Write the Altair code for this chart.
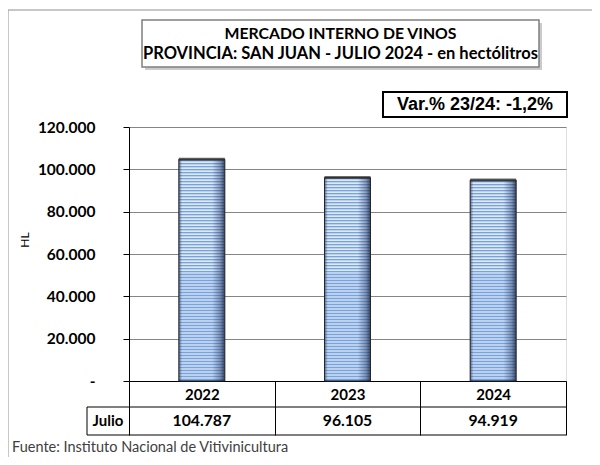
import altair as alt
import pandas as pd

# ---- data ----
years = ["2022", "2023", "2024"]
values = [104787, 96105, 94919]
value_labels = [f"{v:,}".replace(",", ".") for v in values]
row_label = ["Julio"]
title_lines = ["MERCADO INTERNO DE VINOS",
               "PROVINCIA: SAN JUAN - JULIO 2024 - en hectólitros"]
var_text = ["Var.% 23/24: -1,2%"]
y_title = ["HL"]
source_text = ["Fuente: Instituto Nacional de Vitivinicultura"]
y_ticks = [0, 20000, 40000, 60000, 80000, 100000, 120000]

W, H = 437, 254
FONT = "Lato"
STRIPE_STEP = 1417

df = pd.DataFrame({"year": years, "value": values, "label": value_labels})
one = pd.DataFrame({"a": [0]})

xscale = alt.Scale(paddingInner=0, paddingOuter=0)
yscale = alt.Scale(domain=[0, 120000], nice=False)

xenc = alt.X("year:N", sort=years, scale=xscale, title=None,
             axis=alt.Axis(tickBand="extent", tickSize=54, tickColor="black", tickWidth=1,
                           domainColor="black", domainWidth=1, labelFont=FONT,
                           labelFontWeight="bold", labelFontSize=15, labelColor="black",
                           labelPadding=-41, labelBaseline="middle", labelAngle=0))
yenc = alt.Y("value:Q", scale=yscale, title=None,
             axis=alt.Axis(values=y_ticks, grid=True, gridColor="#858585", gridWidth=1,
                           tickSize=6, tickColor="black", domainColor="black",
                           labelFont=FONT, labelFontWeight="bold", labelFontSize=15.5,
                           labelColor="black", labelPadding=28,
                           labelExpr="datum.value == 0 ? '-' : replace(format(datum.value, ','), ',', '.')"))
x2 = alt.X("year:N", sort=years, title=None)

base = alt.Chart(df)

bars = base.mark_bar(size=46, color="#78a2dc").encode(x=xenc, y=yenc)

stripes = base.transform_calculate(
    s=f"sequence({STRIPE_STEP}, datum.value - 700, {STRIPE_STEP})"
).transform_flatten(["s"]).mark_tick(
    size=46, thickness=1.2, color="white", opacity=1
).encode(x=x2, y=alt.Y("s:Q", title=None))

grad = alt.Gradient(
    gradient="linear", x1=0, y1=0, x2=1, y2=0,
    stops=[
        alt.GradientStop(color="rgba(25,45,85,0.6)", offset=0),
        alt.GradientStop(color="rgba(25,45,85,0.0)", offset=0.07),
        alt.GradientStop(color="rgba(25,45,85,0.0)", offset=0.72),
        alt.GradientStop(color="rgba(25,45,85,0.4)", offset=0.9),
        alt.GradientStop(color="rgba(20,30,60,0.8)", offset=1),
    ],
)
overlay = base.mark_bar(size=46, fill=grad, stroke="#262626", strokeWidth=1).encode(
    x=x2, y=alt.Y("value:Q", title=None))
cap = base.mark_tick(size=46, thickness=3, color="#303030").encode(
    x=x2, y=alt.Y("value:Q", title=None))

# ---- decorations ----
frame = alt.Chart(one).mark_rect(fill=None, stroke="#8f8f8f", strokeWidth=1).encode(
    x=alt.value(-121), x2=alt.value(470), y=alt.value(-117), y2=alt.value(340))
shadow = alt.Chart(one).mark_rect(fill="#b5b5b5", opacity=0.7).encode(
    x=alt.value(16), x2=alt.value(413), y=alt.value(-104), y2=alt.value(-57))
tbox = alt.Chart(one).mark_rect(fill="white", stroke="#7f7f7f", strokeWidth=1.5).encode(
    x=alt.value(13), x2=alt.value(410), y=alt.value(-107), y2=alt.value(-60))
t1 = alt.Chart(pd.DataFrame({"t": title_lines[:1]})).mark_text(
    font=FONT, fontWeight="bold", fontSize=15.8, color="black", baseline="middle").encode(
    x=alt.value(211.5), y=alt.value(-93), text="t:N")
t2 = alt.Chart(pd.DataFrame({"t": title_lines[1:]})).mark_text(
    font=FONT, fontWeight="bold", fontSize=16.5, color="black", baseline="middle").encode(
    x=alt.value(211.5), y=alt.value(-73), text="t:N")
vbox = alt.Chart(one).mark_rect(fill="white", stroke="black", strokeWidth=2).encode(
    x=alt.value(254), x2=alt.value(438), y=alt.value(-35), y2=alt.value(-10))
vtext = alt.Chart(pd.DataFrame({"t": var_text})).mark_text(
    font="Liberation Sans", fontWeight="bold", fontSize=18, color="black", baseline="middle").encode(
    x=alt.value(346), y=alt.value(-22), text="t:N")
hl = alt.Chart(pd.DataFrame({"t": y_title})).mark_text(
    font=FONT, fontSize=12, color="black", angle=270, baseline="middle").encode(
    x=alt.value(-104), y=alt.value(113), text="t:N")

rule_rows = alt.Chart(pd.DataFrame({"yy": [280, 308]})).mark_rule(color="black", strokeWidth=1).encode(
    x=alt.value(-42), x2=alt.value(437), y=alt.Y("yy:Q", scale=None, title=None))
rule_left = alt.Chart(one).mark_rule(color="black", strokeWidth=1).encode(
    x=alt.value(-42), y=alt.value(280), y2=alt.value(308))
julio = alt.Chart(pd.DataFrame({"t": row_label})).mark_text(
    font=FONT, fontWeight="bold", fontSize=15, color="black", baseline="middle").encode(
    x=alt.value(-21), y=alt.value(294), text="t:N")
vals = base.mark_text(font=FONT, fontWeight="bold", fontSize=15.8, color="black",
                      baseline="middle").encode(x=x2, y=alt.value(294), text="label:N")
src = alt.Chart(pd.DataFrame({"t": source_text})).mark_text(
    font=FONT, fontSize=14.5, color="#404040", align="left", baseline="middle").encode(
    x=alt.value(-117), y=alt.value(321), text="t:N")

chart = alt.layer(
    frame, shadow, tbox, bars, stripes, overlay, cap, t1, t2, vbox, vtext, hl,
    rule_rows, rule_left, julio, vals, src
).properties(
    width=W, height=H,
    autosize=alt.AutoSizeParams(type="none"),
    padding={"left": 121, "top": 119, "right": 26, "bottom": 76},
).configure_view(stroke="#9a9a9a", strokeWidth=1).configure(background="white")

chart.save("out.html", embed_options={"renderer": "svg", "actions": False})
